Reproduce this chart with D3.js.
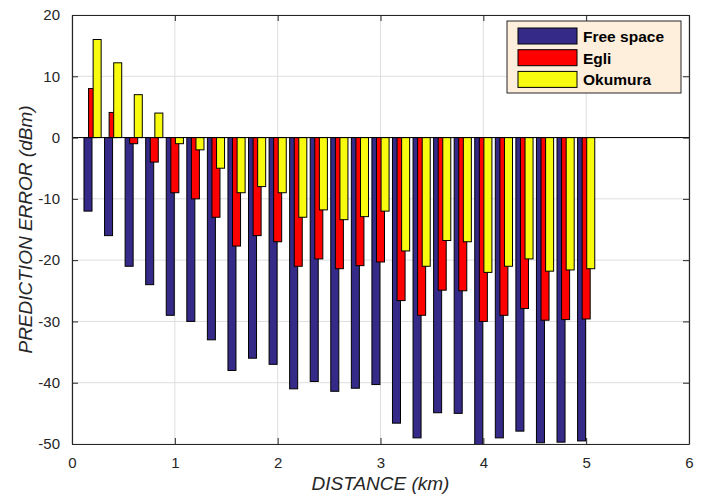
<!DOCTYPE html>
<html>
<head>
<meta charset="utf-8">
<script src="https://cdn.jsdelivr.net/npm/d3@7/dist/d3.min.js"></script>
<style>
  body { margin: 0; background: #fff; }
  text { font-family: "Liberation Sans", Arial, Helvetica, sans-serif; }
</style>
</head>
<body>
<div class="chart"></div>
<script>
// distance (km) for each group of bars
var distances = [0.2, 0.4, 0.6, 0.8, 1.0, 1.2, 1.4, 1.6, 1.8, 2.0, 2.2, 2.4, 2.6,
                 2.8, 3.0, 3.2, 3.4, 3.6, 3.8, 4.0, 4.2, 4.4, 4.6, 4.8, 5.0];

// prediction error (dBm) per model
var freeSpace = [-12, -16, -21, -24, -29, -30, -33, -38, -36, -37, -41, -39.8, -41.4,
                 -40.9, -40.3, -46.6, -49, -44.9, -45, -50.4, -49, -47.9, -49.8, -49.7, -49.5];
var egli = [8, 4.1, -1, -4, -9, -10, -13, -17.7, -16, -17, -21, -19.8, -21.4,
            -20.9, -20.3, -26.6, -29, -24.9, -25, -30, -29, -27.9, -29.8, -29.7, -29.6];
var okumura = [16, 12.2, 7, 4, -1, -2, -5, -9, -8, -9, -13, -11.8, -13.4,
               -12.9, -12, -18.5, -21, -16.8, -17, -22, -21, -19.8, -21.8, -21.6, -21.4];

var seriesNames = ["Free space", "Egli", "Okumura"];
var seriesColors = ["#352a87", "#ff0000", "#f9fb0e"];

var xTicks = [0, 1, 2, 3, 4, 5, 6];
var yTicks = [-50, -40, -30, -20, -10, 0, 10, 20];

var svgWidth = 704;
var svgHeight = 495;
var margin = { top: 15, right: 15, bottom: 51, left: 72 };
var width = svgWidth - margin.left - margin.right;
var height = svgHeight - margin.top - margin.bottom;

var axisColor = "#262626";

var svg = d3.select(".chart")
  .append("svg")
  .attr("width", svgWidth)
  .attr("height", svgHeight);

var chart = svg.append("g")
  .attr("transform", "translate(" + margin.left + "," + margin.top + ")");

var x = d3.scaleLinear().domain([0, 6]).range([0, width]);
var y = d3.scaleLinear().domain([-50, 20]).range([height, 0]);

chart.append("defs").append("clipPath")
  .attr("id", "plot-clip")
  .append("rect")
  .attr("width", width)
  .attr("height", height);

// grid
chart.append("g")
  .selectAll("line.vgrid")
  .data(xTicks)
  .enter()
  .append("line")
  .attr("x1", function(d) { return x(d); })
  .attr("x2", function(d) { return x(d); })
  .attr("y1", 0)
  .attr("y2", height)
  .attr("stroke", "#dedede")
  .attr("stroke-width", 1);

chart.append("g")
  .selectAll("line.hgrid")
  .data(yTicks)
  .enter()
  .append("line")
  .attr("x1", 0)
  .attr("x2", width)
  .attr("y1", function(d) { return y(d); })
  .attr("y2", function(d) { return y(d); })
  .attr("stroke", "#dedede")
  .attr("stroke-width", 1);

// bars: offset within group and bar width in data units
var barOffset = 0.0445;
var barWidth = 0.078;
var allSeries = [freeSpace, egli, okumura];

var bars = chart.append("g").attr("clip-path", "url(#plot-clip)");

allSeries.forEach(function(values, s) {
  bars.append("g")
    .selectAll("rect")
    .data(values)
    .enter()
    .append("rect")
    .attr("x", function(d, i) {
      return x(distances[i] + (s - 1) * barOffset - barWidth / 2);
    })
    .attr("y", function(d) { return y(Math.max(0, d)); })
    .attr("width", x(barWidth) - x(0))
    .attr("height", function(d) { return Math.abs(y(d) - y(0)); })
    .attr("fill", seriesColors[s])
    .attr("stroke", "#000")
    .attr("stroke-width", 1);
});

// zero baseline
chart.append("line")
  .attr("x1", 0)
  .attr("x2", width)
  .attr("y1", y(0))
  .attr("y2", y(0))
  .attr("stroke", "#000")
  .attr("stroke-width", 1);

// axes, ticks inward on all four sides
var tickLen = 6;
var plain = function(d) { return String(d); };
var bottomAxis = d3.axisBottom(x).tickValues(xTicks).tickFormat(plain).tickSizeInner(-tickLen).tickSizeOuter(0).tickPadding(13);
var leftAxis = d3.axisLeft(y).tickValues(yTicks).tickFormat(plain).tickSizeInner(-tickLen).tickSizeOuter(0).tickPadding(12);
var topAxis = d3.axisTop(x).tickValues(xTicks).tickSizeInner(-tickLen).tickSizeOuter(0).tickFormat("");
var rightAxis = d3.axisRight(y).tickValues(yTicks).tickSizeInner(-tickLen).tickSizeOuter(0).tickFormat("");

var gx = chart.append("g")
  .attr("transform", "translate(0," + height + ")")
  .call(bottomAxis);
var gy = chart.append("g").call(leftAxis);
var gt = chart.append("g").call(topAxis);
var gr = chart.append("g")
  .attr("transform", "translate(" + width + ",0)")
  .call(rightAxis);

[gx, gy, gt, gr].forEach(function(g) {
  g.select(".domain").attr("stroke", axisColor).attr("stroke-width", 1.2);
  g.selectAll(".tick line").attr("stroke", axisColor);
  g.selectAll(".tick text")
    .attr("fill", axisColor)
    .style("font-size", "15px")
    .style("font-family", "'Liberation Sans', Arial, sans-serif");
});

// axis titles
chart.append("text")
  .attr("x", width / 2)
  .attr("y", height + 46)
  .attr("text-anchor", "middle")
  .attr("fill", axisColor)
  .style("font-size", "19px")
  .style("font-style", "italic")
  .text("DISTANCE (km)");

chart.append("text")
  .attr("transform", "rotate(-90)")
  .attr("x", -height / 2)
  .attr("y", -40)
  .attr("text-anchor", "middle")
  .attr("fill", axisColor)
  .style("font-size", "19px")
  .style("font-style", "italic")
  .text("PREDICTION ERROR (dBm)");

// legend
var legend = svg.append("g").attr("transform", "translate(507,21)");

legend.append("rect")
  .attr("width", 174)
  .attr("height", 72)
  .attr("fill", "#fdefdb")
  .attr("stroke", axisColor)
  .attr("stroke-width", 1);

seriesNames.forEach(function(name, i) {
  legend.append("rect")
    .attr("x", 11)
    .attr("y", 7 + i * 21.7)
    .attr("width", 59)
    .attr("height", 16)
    .attr("fill", seriesColors[i])
    .attr("stroke", "#000")
    .attr("stroke-width", 1);

  legend.append("text")
    .attr("x", 76)
    .attr("y", 21 + i * 21.7)
    .attr("fill", "#000")
    .style("font-size", "15.5px")
    .style("font-weight", "bold")
    .text(name);
});
</script>
</body>
</html>
